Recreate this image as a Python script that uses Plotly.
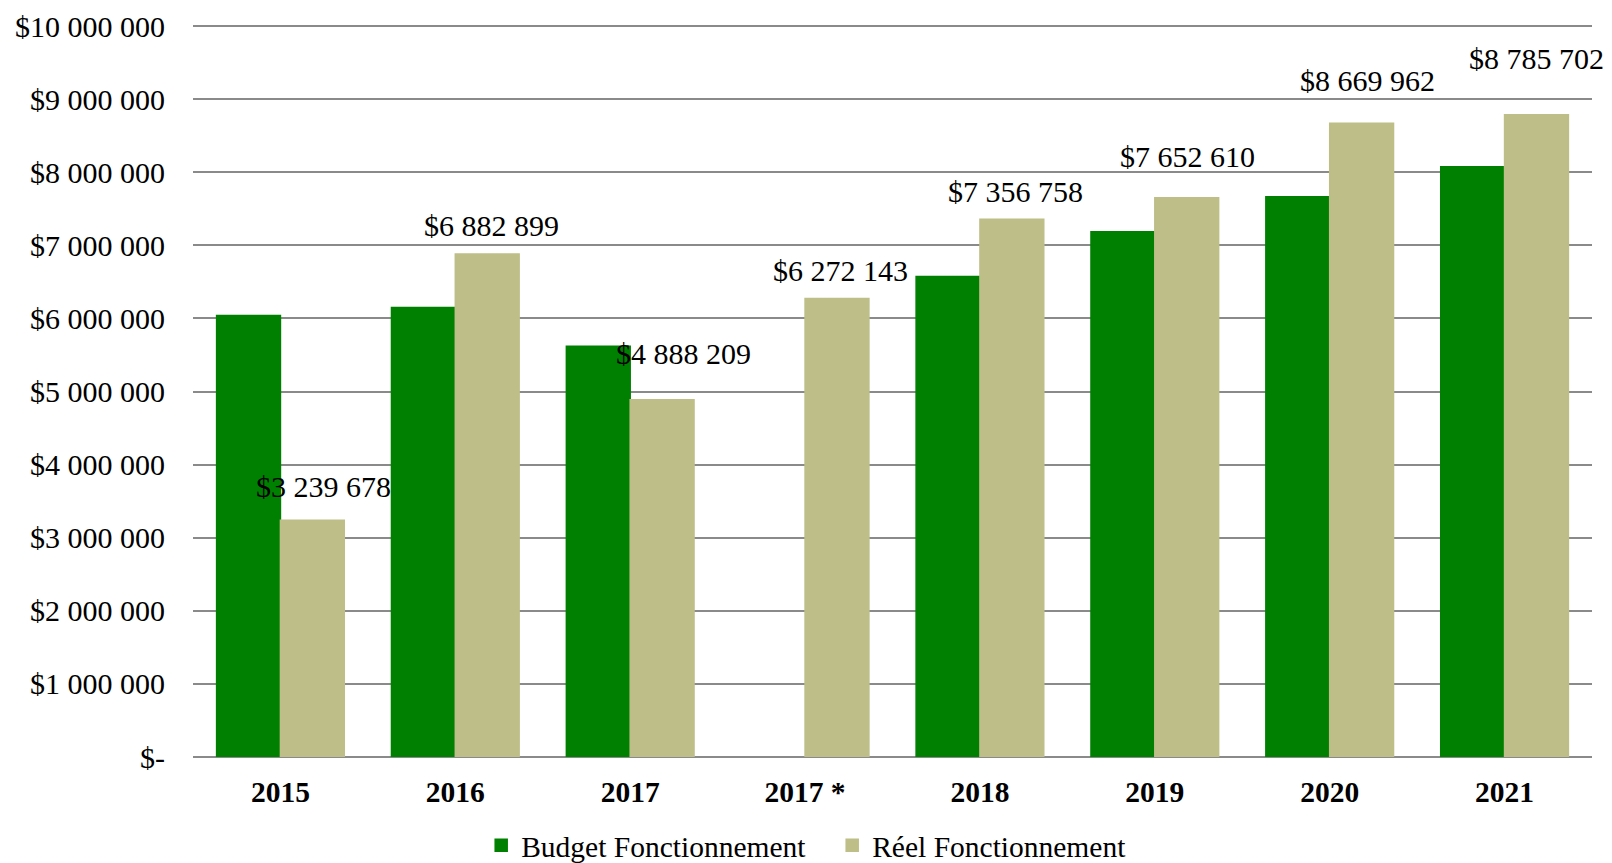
import plotly.graph_objects as go

categories = ["2015", "2016", "2017", "2017 *", "2018", "2019", "2020", "2021"]
budget = [6040000, 6150000, 5620000, None, 6575000, 7186000, 7664000, 8074000]
reel = [3239678, 6882899, 4888209, 6272143, 7356758, 7652610, 8669962, 8785702]
y_ticks = [0, 1000000, 2000000, 3000000, 4000000, 5000000, 6000000, 7000000, 8000000, 9000000, 10000000]

# label placement tweaks (pixels), styling only
label_dx = [11, 4, 21, 3, 4, 1, 6, 0]
label_dy = [34, 28, 46, 28, 28, 41, 43, 56]


def money(v):
    return "$" + f"{v:,}".replace(",", " ")


tick_text = ["$-" if v == 0 else money(v) for v in y_ticks]

FONT = "Liberation Serif, Times New Roman, serif"
GREEN = "#008000"
TAN = "#BEBE88"

fig = go.Figure()
fig.add_trace(go.Bar(x=categories, y=budget, name="Budget Fonctionnement",
                     marker=dict(color=GREEN, line=dict(width=1.5, color=GREEN))))
fig.add_trace(go.Bar(x=categories, y=reel, name="Réel Fonctionnement",
                     marker=dict(color=TAN, line=dict(width=1.5, color=TAN))))

# annotations placed by category index on the category axis
for i, v in enumerate(reel):
    fig.add_annotation(x=i, y=v, xref="x", yref="y", text=money(v), showarrow=False,
                       xanchor="center", yanchor="middle",
                       xshift=32 + label_dx[i], yshift=label_dy[i],
                       font=dict(family=FONT, size=30, color="#000000"))

fig.update_layout(
    width=1604, height=855,
    margin=dict(l=185, r=20, t=17, b=106, autoexpand=False),
    paper_bgcolor="white", plot_bgcolor="white",
    barmode="group", bargap=0.27, bargroupgap=0,
    font=dict(family=FONT, size=29.5, color="#000000"),
    showlegend=True,
    legend=dict(orientation="h", x=0.206, xanchor="left", y=-0.121, yanchor="middle",
                font=dict(family=FONT, size=29.5), itemwidth=30,
                entrywidth=306, entrywidthmode="pixels", bgcolor="rgba(0,0,0,0)"),
)
fig.update_xaxes(type="category", range=[-0.5, len(categories) - 0.5], autorange=False,
                 showgrid=False, showline=False, ticks="",
                 tickfont=dict(family=FONT, size=29.5, weight="bold"),
                 ticklabelstandoff=14)
fig.update_yaxes(range=[0, 10015000], tickvals=y_ticks, ticktext=tick_text,
                 showgrid=True, gridcolor="#8a8a8a", gridwidth=1.5,
                 zeroline=True, zerolinecolor="#8a8a8a", zerolinewidth=1.5,
                 showline=False, ticks="", ticklabelstandoff=27,
                 tickfont=dict(family=FONT, size=30))

fig.write_html("out.html")
